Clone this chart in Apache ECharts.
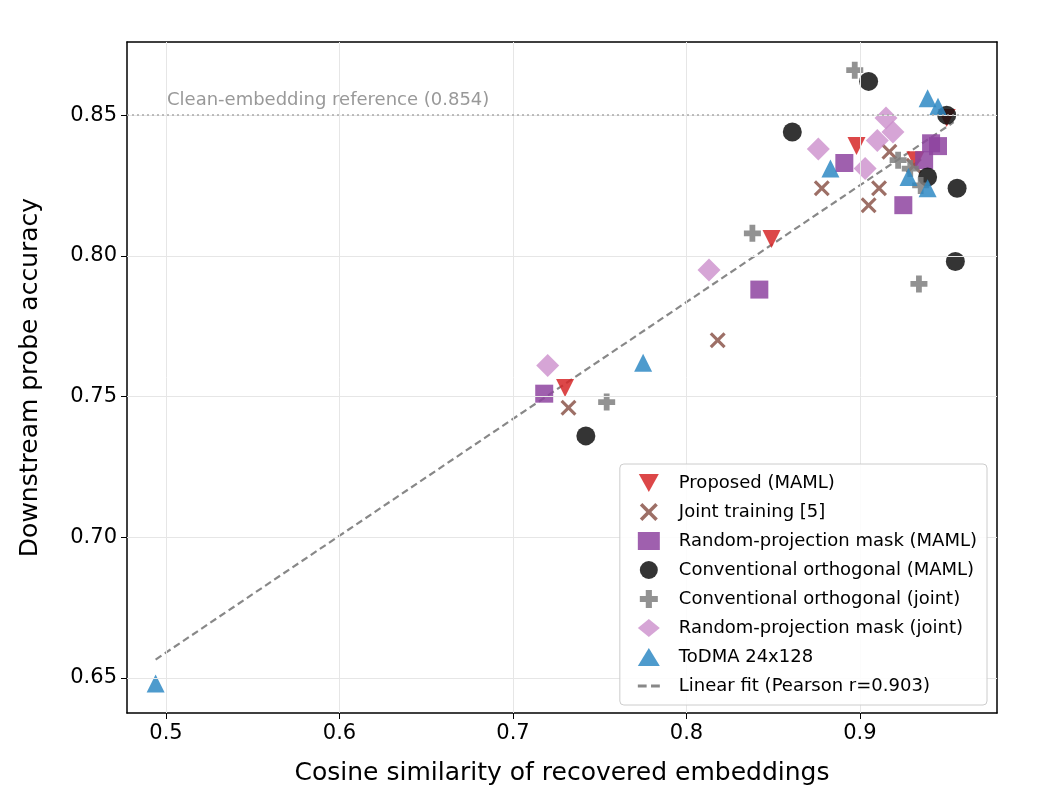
<!DOCTYPE html>
<html><head><meta charset="utf-8">
<script src="https://cdn.jsdelivr.net/npm/echarts@6/dist/echarts.min.js"></script>
<style>body{margin:0}#main{width:1050px;height:810px}</style>
</head><body><div id="main"></div>
<script>
// data: [cosine similarity, probe accuracy]
var proposed = [[0.849,0.806],[0.730,0.753],[0.898,0.839],[0.950,0.849],[0.932,0.834]];
var jointTraining = [[0.732,0.746],[0.818,0.770],[0.878,0.824],[0.905,0.818],[0.911,0.824],[0.917,0.837],[0.931,0.832]];
var rpMaskMaml = [[0.718,0.751],[0.842,0.788],[0.891,0.833],[0.925,0.818],[0.937,0.834],[0.945,0.839],[0.941,0.840]];
var convOrthMaml = [[0.742,0.736],[0.861,0.844],[0.905,0.862],[0.950,0.850],[0.939,0.828],[0.956,0.824],[0.955,0.798]];
var convOrthJoint = [[0.897,0.866],[0.838,0.808],[0.754,0.748],[0.934,0.790],[0.922,0.834],[0.929,0.831],[0.935,0.825]];
var rpMaskJoint = [[0.720,0.761],[0.813,0.795],[0.876,0.838],[0.910,0.841],[0.915,0.849],[0.919,0.844],[0.903,0.831]];
var todma = [[0.494,0.648],[0.775,0.762],[0.883,0.831],[0.939,0.856],[0.945,0.853],[0.928,0.828],[0.939,0.824]];
var fitLine = [[0.494,0.6565],[0.954,0.8475]];
var cleanRef = 0.854;
var xTicks = [0.5,0.6,0.7,0.8,0.9];
var yTicks = [0.65,0.70,0.75,0.80,0.85];

var downTri = 'path://M0,0 L10,0 L5,9 Z';
var xMark = 'path://M0,1.4 L1.4,0 L5,3.6 L8.6,0 L10,1.4 L6.4,5 L10,8.6 L8.6,10 L5,6.4 L1.4,10 L0,8.6 L3.6,5 Z';
var plus = 'path://M3.3,0 L6.7,0 L6.7,3.3 L10,3.3 L10,6.7 L6.7,6.7 L6.7,10 L3.3,10 L3.3,6.7 L0,6.7 L0,3.3 L3.3,3.3 Z';
var font = 'DejaVu Sans';

function sc(name, data, symbol, size, color, opacity) {
  return {name: name, type: 'scatter', data: data, symbol: symbol, symbolSize: size,
    itemStyle: {color: color, opacity: opacity}};
}
function frameAxis(pos) {
  return {type: 'value', position: pos, min: pos === 'top' ? 0.4775 : 0.6375, max: pos === 'top' ? 0.979 : 0.876,
    axisLine: {show: true, onZero: false, lineStyle: {color: '#000', width: 1.5}},
    axisTick: {show: false}, axisLabel: {show: false}, splitLine: {show: false}};
}

var chart = echarts.init(document.getElementById('main'));
var option = {
  animation: false,
  textStyle: {fontFamily: font},
  grid: {left: 127, right: 53, top: 42, bottom: 97},
  xAxis: [{
    type: 'value', min: 0.4775, max: 0.979,
    name: 'Cosine similarity of recovered embeddings', nameLocation: 'middle', nameGap: 48,
    nameTextStyle: {fontSize: 25, color: '#000'},
    axisLine: {onZero: false, lineStyle: {color: '#000', width: 1.5}},
    axisTick: {customValues: xTicks, length: 6, lineStyle: {color: '#000'}},
    axisLabel: {customValues: xTicks, fontSize: 21, color: '#000', margin: 10},
    splitLine: {show: false}
  }, frameAxis('top')],
  yAxis: [{
    type: 'value', min: 0.6375, max: 0.876,
    name: 'Downstream probe accuracy', nameLocation: 'middle', nameGap: 84,
    nameTextStyle: {fontSize: 25, color: '#000'},
    axisLine: {onZero: false, lineStyle: {color: '#000', width: 1.5}},
    axisTick: {customValues: yTicks, length: 6, lineStyle: {color: '#000'}},
    axisLabel: {customValues: yTicks, fontSize: 21, color: '#000', margin: 10,
      formatter: function (v) { return v.toFixed(2); }},
    splitLine: {show: false}
  }, frameAxis('right')],
  legend: {
    orient: 'vertical', right: 63, bottom: 105, itemGap: 11, itemWidth: 22, itemHeight: 18,
    backgroundColor: 'rgba(255,255,255,0.85)', borderColor: '#ccc', borderWidth: 1, borderRadius: 4,
    padding: [10, 10, 10, 18], z: 10,
    textStyle: {fontSize: 18, color: '#000', fontFamily: font, padding: [0, 0, 0, 14]},
    data: [
      {name: 'Proposed (MAML)', icon: downTri},
      {name: 'Joint training [5]', icon: xMark},
      {name: 'Random-projection mask (MAML)', icon: 'rect'},
      {name: 'Conventional orthogonal (MAML)', icon: 'circle'},
      {name: 'Conventional orthogonal (joint)', icon: plus},
      {name: 'Random-projection mask (joint)', icon: 'diamond'},
      {name: 'ToDMA 24x128', icon: 'triangle'},
      {name: 'Linear fit (Pearson r=0.903)', icon: 'path://M0,4.3 L4,4.3 L4,5.7 L0,5.7 Z M6,4.3 L10,4.3 L10,5.7 L6,5.7 Z', itemStyle: {color: '#888'}}
    ]
  },
  series: [
    {type: 'line', silent: true, data: [], markLine: {symbol: 'none', silent: true, label: {show: false},
      lineStyle: {color: '#e6e6e6', width: 1, type: 'solid'},
      data: xTicks.map(function (v) { return {xAxis: v}; }).concat(yTicks.map(function (v) { return {yAxis: v}; }))}},
    {type: 'line', silent: true, data: [], markLine: {symbol: 'none', silent: true,
      lineStyle: {color: '#aaa', width: 1.5, type: [2, 3]},
      label: {position: 'insideStartTop', formatter: 'Clean-embedding reference (0.854)', color: '#999', fontSize: 18, distance: [40, 6]},
      data: [{yAxis: cleanRef}]}},
    {name: 'Linear fit (Pearson r=0.903)', type: 'line', data: fitLine, symbol: 'none', z: 1,
      lineStyle: {color: '#888', width: 2.2, type: [7, 4]}, itemStyle: {color: '#888'}},
    sc('Proposed (MAML)', proposed, downTri, 18, '#d62728', 0.85),
    sc('Joint training [5]', jointTraining, xMark, 16, '#8c564b', 0.85),
    sc('Random-projection mask (MAML)', rpMaskMaml, 'rect', 18, '#8e44a0', 0.85),
    sc('Conventional orthogonal (MAML)', convOrthMaml, 'circle', 19, '#111', 0.85),
    sc('Conventional orthogonal (joint)', convOrthJoint, plus, 17, '#7f7f7f', 0.85),
    sc('Random-projection mask (joint)', rpMaskJoint, 'diamond', 23, '#cc8fcc', 0.8),
    sc('ToDMA 24x128', todma, 'triangle', 18, '#2f8ac4', 0.85)
  ]
};
chart.setOption(option);
</script>
</body></html>
